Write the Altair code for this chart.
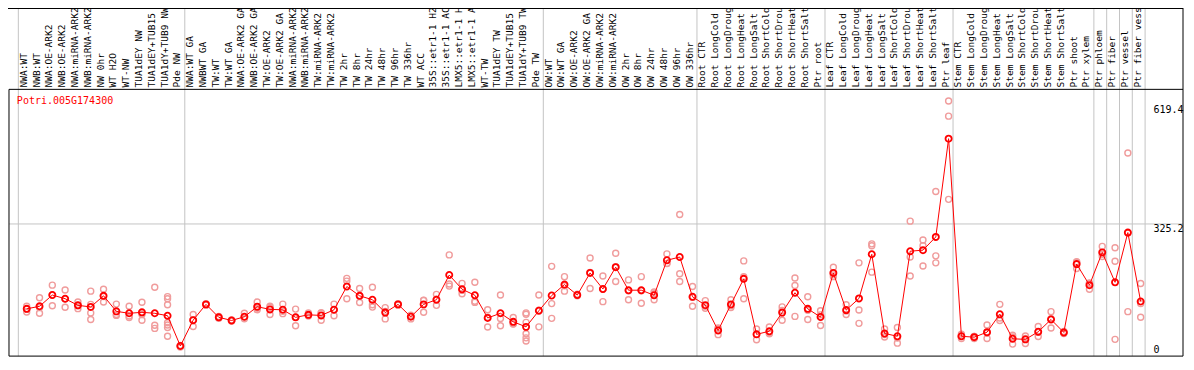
import altair as alt
import pandas as pd

GENE = "Potri.005G174300"

group_nw = ["NWA:WT", "NWB:WT", "NWA:OE-ARK2", "NWB:OE-ARK2", "NWA:miRNA-ARK2",
            "NWB:miRNA-ARK2", "NW 0hr", "WT H2O", "WT-NW", "TUA1dEY NW",
            "TUA1dEY+TUB15", "TUA1dY+TUB9 NW", "Pde NW"]
group_tw = ["NWA:WT GA", "NWBWT GA", "TW:WT", "TW:WT GA", "NWA:OE-ARK2 GA",
            "NWB:OE-ARK2 GA", "TW:OE-ARK2", "TW:OE-ARK2 GA", "NWA:miRNA-ARK2",
            "NWB:miRNA-ARK2", "TW:miRNA-ARK2", "TW:miRNA-ARK2", "TW 2hr", "TW 8hr",
            "TW 24hr", "TW 48hr", "TW 96hr", "TW 336hr", "WT ACC", "35S::etr1-1 H2O",
            "35S::etr1-1 ACC", "LMX5::etr1-1 H2O", "LMX5::etr1-1 ACC", "WT-TW",
            "TUA1dEY TW", "TUA1dEY+TUB15", "TUA1dY+TUB9 TW", "Pde TW"]
group_ow = ["OW:WT", "OW:WT GA", "OW:OE-ARK2", "OW:OE-ARK2 GA", "OW:miRNA-ARK2",
            "OW:miRNA-ARK2", "OW 2hr", "OW 8hr", "OW 24hr", "OW 48hr", "OW 96hr", "OW 336hr"]
group_root = ["Root CTR", "Root LongCold", "Root LongDrought", "Root LongHeat",
              "Root LongSalt", "Root ShortCold", "Root ShortDrought", "Root ShortHeat",
              "Root ShortSalt", "Ptr root"]
group_leaf = ["Leaf CTR", "Leaf LongCold", "Leaf LongDrought", "Leaf LongHeat",
              "Leaf LongSalt", "Leaf ShortCold", "Leaf ShortDrought", "Leaf ShortHeat",
              "Leaf ShortSalt", "Ptr leaf"]
group_stem = ["Stem CTR", "Stem LongCold", "Stem LongDrought", "Stem LongHeat",
              "Stem LongSalt", "Stem ShortCold", "Stem ShortDrought", "Stem ShortHeat",
              "Stem ShortSalt", "Ptr shoot", "Ptr xylem"]
group_phloem = ["Ptr phloem"]
group_fiber = ["Ptr fiber"]
group_vessel = ["Ptr vessel"]
group_fv = ["Ptr fiber vessel"]

groups = [group_nw, group_tw, group_ow, group_root, group_leaf, group_stem,
          group_phloem, group_fiber, group_vessel, group_fv]

means = [
    106.5, 113, 142, 132.6, 115.5, 111.4, 140, 100, 95, 97.5, 95, 88.7, 10.7,
    77.3, 118, 84.6, 76.5, 86, 112, 105, 104, 84.6, 91, 89.5, 104, 164, 140, 130,
    96.8, 118, 86, 118, 130, 193.6, 157, 141.4, 83, 95, 73, 60, 101.6,
    140.7, 169, 142, 199, 157.7, 213.8, 154.5, 154.5, 141.4, 231.6, 240, 137.5,
    116, 50.5, 118, 183.8, 40.7, 48.8, 96.8, 148, 106.5, 85.3,
    199, 103.3, 133.3, 247, 43, 35.8, 255, 257.7, 291.8, 545,
    35.8, 33.4, 46.3, 92.6, 29.3, 27.8, 47.3, 79, 45.6, 221.8, 167.5,
    252, 174.8, 303, 125.3,
]

replicates = [
    [113, 98.5, 106], [135, 95, 110], [167.5, 114.6, 142], [155, 110.7, 132],
    [124, 107, 115], [152, 96, 79, 118], [157, 124, 138], [118.7, 89.5, 92],
    [113, 84, 88], [123.6, 77, 92], [162, 64, 56],
    [138, 132.6, 117, 70.7, 65, 58.5, 35.8], [8, 12, 11],
    [92, 61, 78], [118, 120, 116], [84.6, 82, 87], [76.5, 75, 78], [95, 81, 85],
    [124, 104, 108], [113, 92, 110], [118.7, 94, 100], [105.8, 62.7, 85],
    [96, 88, 91], [96.8, 77, 95], [118.7, 88.7, 104], [185, 178, 132.6],
    [159, 122.8, 140], [162, 117, 111], [109.7, 80.5, 100], [118, 116, 120],
    [80.5, 88, 90], [129, 97.5, 128], [143.8, 115.5, 131], [245.5, 170.6, 165],
    [172, 145.5, 154], [174.8, 126, 123], [104, 59.5, 85], [142, 81.4, 62.7],
    [84, 67.5, 68], [96, 92.6, 71.7, 42.4, 31.7, 23.6], [142, 60, 103],
    [216, 120, 82], [189.4, 152, 166], [142, 140, 144], [237.4, 159, 200],
    [191, 125, 157], [249.6, 177, 215], [181, 130, 153], [189.4, 121, 153],
    [150, 145.5, 130], [248, 223.5, 223], [349.6, 196.7, 177], [164, 113, 136],
    [127.7, 108, 113], [57, 40, 54.5], [130, 109.7, 114], [230, 132.6, 189],
    [54.6, 26.8, 40.7], [59.5, 42.4, 44.5], [111.4, 77, 102], [186, 166.7, 87],
    [137.5, 79, 103], [101.6, 63.4, 91],
    [213.8, 189.4, 194], [117, 92, 101], [225, 103.3, 69], [274, 269, 201],
    [54.6, 34, 40.5], [58.5, 18, 31], [332.5, 240, 191], [283.7, 269, 217],
    [408.8, 243, 225], [642, 603, 388.6],
    [30, 36, 41], [30, 35, 35], [65, 30, 44], [118, 76.5, 83], [38.3, 15.6, 34],
    [36.6, 17, 30], [61, 35, 46], [99.2, 57, 81], [48, 43, 46],
    [226.7, 210.6, 228], [157, 172, 173],
    [267.4, 241.3, 247], [264, 229, 27.8], [508, 99.2, 302], [171.6, 84.6, 120],
]

y_ticks = [0, 325.2, 619.4]
y_tick_labels = ["0", "325.2", "619.4"]

# ---------------------------------------------------------------- layout
W, H = 1176, 350
SX, SY = W / 1194, H / 370
FONT = "DejaVu Sans Mono"
RED = "#ff0000"
PINK = "#f09c9c"
GRID = "#c4c4c4"

samples = [s for g in groups for s in g]
n = len(samples)

x_scale = alt.Scale(domain=[0, n - 1], range=[SX * 19, SX * (19 + 13 * (n - 1))],
                    nice=False, zero=False)
y_scale = alt.Scale(domain=[0, 619.4], range=[SY * 361.7, SY * 107.62],
                    nice=False, zero=False)

bounds = [0]
for g in groups:
    bounds.append(bounds[-1] + len(g))

df_means = pd.DataFrame({"idx": list(range(n)), "sample": samples, "mean": means})
df_reps = pd.DataFrame([{"idx": i, "value": v}
                        for i, vs in enumerate(replicates) for v in vs])
df_bounds = pd.DataFrame({"pos": [b - 8.5 / 13 for b in bounds]})
df_ticks = pd.DataFrame({"v": y_ticks, "label": y_tick_labels})
df_one = pd.DataFrame({"gene": [GENE]})

X_IDX = alt.X("idx:Q", scale=x_scale, axis=None)

vgrid = alt.Chart(df_bounds).mark_rule(color=GRID, strokeWidth=1).encode(
    x=alt.X("pos:Q", scale=x_scale, axis=None),
    y=alt.value(0), y2=alt.value(SY * 368))

hgrid = alt.Chart(df_ticks[df_ticks["v"] == 325.2]).mark_rule(
    color=GRID, strokeWidth=1).encode(
    y=alt.Y("v:Q", scale=y_scale, axis=None),
    x=alt.value(SX * 1), x2=alt.value(SX * 1193))

def frame(**enc):
    return alt.Chart(df_one).mark_rule(color="black", strokeWidth=1).encode(**enc)

frames = [
    frame(x=alt.value(0), x2=alt.value(SX * 1193), y=alt.value(0.5)),
    frame(x=alt.value(SX * 1193), y=alt.value(0), y2=alt.value(SY * 368)),
    frame(x=alt.value(SX * 1), x2=alt.value(SX * 1193), y=alt.value(SY * 86)),
    frame(x=alt.value(SX * 1), y=alt.value(SY * 86), y2=alt.value(SY * 368)),
    frame(x=alt.value(SX * 1), x2=alt.value(SX * 1193), y=alt.value(SY * 368)),
]

reps_layer = alt.Chart(df_reps).mark_point(
    shape="circle", size=36, strokeWidth=1.4, color=PINK, filled=False, opacity=1
).encode(x=X_IDX, y=alt.Y("value:Q", scale=y_scale, axis=None))

line_layer = alt.Chart(df_means).mark_line(color=RED, strokeWidth=1).encode(
    x=X_IDX, y=alt.Y("mean:Q", scale=y_scale, axis=None), order="idx:Q")

mean_layer = alt.Chart(df_means).mark_point(
    shape="circle", size=38, strokeWidth=1.8, color=RED, filled=False, opacity=1
).encode(x=X_IDX, y=alt.Y("mean:Q", scale=y_scale, axis=None))

header = alt.Chart(df_means).mark_text(
    angle=270, align="left", baseline="alphabetic", font=FONT, fontSize=9.5,
    color="black"
).encode(x=X_IDX, y=alt.value(SY * 84), text="sample:N")

gene_text = alt.Chart(df_one).mark_text(
    align="left", baseline="alphabetic", font=FONT, fontSize=10, color=RED
).encode(x=alt.value(SX * 9), y=alt.value(SY * 101), text="gene:N")

tick_mid = alt.Chart(df_ticks[df_ticks["v"] != 325.2]).mark_text(
    align="left", baseline="middle", font=FONT, fontSize=10, color="black"
).encode(x=alt.value(SX * 1163), y=alt.Y("v:Q", scale=y_scale, axis=None),
         text="label:N")

tick_top = alt.Chart(df_ticks[df_ticks["v"] == 325.2]).mark_text(
    align="left", baseline="top", font=FONT, fontSize=10, color="black"
).encode(x=alt.value(SX * 1163), y=alt.Y("v:Q", scale=y_scale, axis=None),
         text="label:N")

chart = alt.layer(
    vgrid, hgrid, *frames, reps_layer, line_layer, mean_layer, header,
    gene_text, tick_mid, tick_top
).properties(
    width=W, height=H, padding=0,
    autosize=alt.AutoSizeParams(type="none"),
    background="white",
).configure_view(stroke=None)

chart.save("out.html", embed_options={"renderer": "svg", "actions": False})
